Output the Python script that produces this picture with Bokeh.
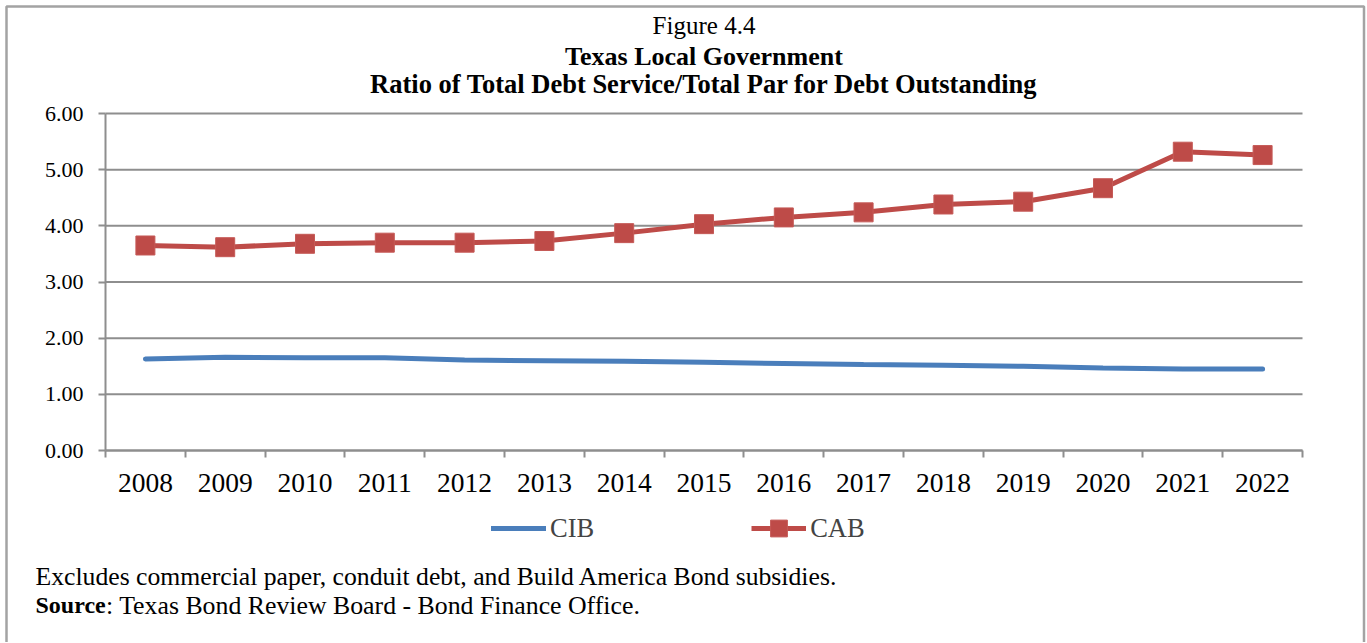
from bokeh.plotting import figure
from bokeh.models import (Range1d, FixedTicker, PrintfTickFormatter, Legend, LegendItem,
                          ColumnDataSource, LinearAxis)
from bokeh.core.properties import value
from bokeh.embed import file_html
from bokeh.resources import INLINE

# ---- data ----
years = [2008, 2009, 2010, 2011, 2012, 2013, 2014, 2015, 2016, 2017, 2018, 2019, 2020, 2021, 2022]
cib = [1.63, 1.66, 1.65, 1.65, 1.61, 1.60, 1.59, 1.57, 1.55, 1.53, 1.52, 1.50, 1.47, 1.45, 1.45]
cab = [3.65, 3.62, 3.68, 3.70, 3.70, 3.73, 3.87, 4.03, 4.15, 4.24, 4.38, 4.43, 4.67, 5.32, 5.26]
y_ticks = [0, 1, 2, 3, 4, 5, 6]
series_names = ["CIB", "CAB"]
title_lines = ["Figure 4.4", "Texas Local Government",
               "Ratio of Total Debt Service/Total Par for Debt Outstanding"]
note_line = "Excludes commercial paper, conduit debt, and Build America Bond subsidies."
source_bold = "Source"
source_rest = ": Texas Bond Review Board - Bond Finance Office."

# ---- layout / style ----
FONT = "Liberation Serif"
GRID = "#8e8e8e"
BORDER = "#a3a3a3"
BLUE = "#4A7EBB"
RED = "#BE4B48"

W, H = 1366, 642
PL, PR, PT, PB = 105, 1302, 113, 450   # plot area in canvas pixels
DY = -8.5                               # text baseline correction

x0, x1 = years[0] - 0.5, years[-1] + 0.5
ymax = y_ticks[-1]
sx = (PR - PL) / (x1 - x0)
sy = (PB - PT) / ymax

p = figure(width=W, height=H, output_backend="svg", toolbar_location=None,
           x_range=Range1d(x0 - PL / sx, x1 + (W - PR) / sx),
           y_range=Range1d(-(H - PB) / sy, ymax + PT / sy),
           x_axis_type=None, y_axis_type=None,
           min_border_left=0, min_border_right=0, min_border_top=0, min_border_bottom=0)
p.title = None
p.outline_line_color = None
p.background_fill_color = "white"
p.border_fill_color = "white"
p.extra_x_ranges = {"px": Range1d(0, W)}
p.extra_y_ranges = {"px": Range1d(H, 0)}

# gridlines (one per y tick, across the plot area)
grid_src = ColumnDataSource(dict(y=y_ticks, xa=[x0] * len(y_ticks), xb=[x1] * len(y_ticks)))
p.segment(x0="xa", y0="y", x1="xb", y1="y", source=grid_src,
          line_color=GRID, line_width=2)

# axes at fixed locations
xaxis = LinearAxis(fixed_location=0, bounds=(x0, x1),
                   ticker=FixedTicker(ticks=years,
                                      minor_ticks=[y - 0.5 for y in years] + [x1]))
xaxis.major_tick_line_color = None
xaxis.major_tick_out = 0
xaxis.major_tick_in = 0
xaxis.minor_tick_out = 7
xaxis.minor_tick_in = 0
xaxis.minor_tick_line_color = GRID
xaxis.minor_tick_line_width = 2
xaxis.major_label_standoff = 16
xaxis.major_label_text_font = FONT
xaxis.major_label_text_font_size = "27.5px"
xaxis.major_label_text_color = "black"
xaxis.axis_line_color = GRID
xaxis.axis_line_width = 2
p.add_layout(xaxis, "below")

yaxis = LinearAxis(fixed_location=x0, bounds=(0, ymax),
                   ticker=FixedTicker(ticks=y_ticks, minor_ticks=[]),
                   formatter=PrintfTickFormatter(format="%.2f"))
yaxis.major_tick_out = 7
yaxis.major_tick_in = 0
yaxis.major_tick_line_color = GRID
yaxis.major_tick_line_width = 2
yaxis.major_label_standoff = 15
yaxis.major_label_text_font = FONT
yaxis.major_label_text_font_size = "22px"
yaxis.major_label_text_color = "black"
yaxis.axis_line_color = GRID
yaxis.axis_line_width = 2
p.add_layout(yaxis, "left")

# series
src = ColumnDataSource(dict(year=years, cib=cib, cab=cab))
r_cib = p.line("year", "cib", source=src, line_color=BLUE, line_width=5, line_cap="round")
r_cab = p.line("year", "cab", source=src, line_color=RED, line_width=5)
r_cabm = p.scatter("year", "cab", source=src, marker="square", size=19,
                   fill_color=RED, line_color="#C55A57", line_width=1)

legend = Legend(items=[LegendItem(label=series_names[0], renderers=[r_cib]),
                       LegendItem(label=series_names[1], renderers=[r_cab, r_cabm])],
                location=(491, H - 549), orientation="horizontal",
                glyph_width=55, glyph_height=42, label_standoff=4, spacing=157,
                padding=0, margin=0, border_line_color=None, background_fill_alpha=0,
                label_text_font=FONT, label_text_font_size="26.5px",
                label_text_baseline="middle")
p.add_layout(legend, "center")

# titles
cx = (PL + PR) / 2
p.text(x=[cx], y=[33.3 + DY], text=[title_lines[0]], x_range_name="px", y_range_name="px",
       text_align="center", text_baseline="alphabetic", text_font=value(FONT),
       text_font_size=value("25px"), text_color="black")
p.text(x=[cx], y=[64.3 + DY], text=[title_lines[1]], x_range_name="px", y_range_name="px",
       text_align="center", text_baseline="alphabetic", text_font=value(FONT),
       text_font_size=value("26px"), text_font_style=value("bold"), text_color="black")
p.text(x=[cx], y=[92.3 + DY], text=[title_lines[2]], x_range_name="px", y_range_name="px",
       text_align="center", text_baseline="alphabetic", text_font=value(FONT),
       text_font_size=value("26.5px"), text_font_style=value("bold"), text_color="black")

# footnotes
p.text(x=[35], y=[584 + DY], text=[note_line], x_range_name="px", y_range_name="px",
       text_align="left", text_baseline="alphabetic", text_font=value(FONT),
       text_font_size=value("25.7px"), text_color="black")
p.text(x=[35], y=[613.3 + DY], text=[source_bold], x_range_name="px", y_range_name="px",
       text_align="left", text_baseline="alphabetic", text_font=value(FONT),
       text_font_size=value("24px"), text_font_style=value("bold"), text_color="black")
p.text(x=[105.5], y=[613.3 + DY], text=[source_rest], x_range_name="px", y_range_name="px",
       text_align="left", text_baseline="alphabetic", text_font=value(FONT),
       text_font_size=value("25.8px"), text_color="black")

# outer frame of the figure box
p.line(x=[6, 6, 1363.5, 1363.5], y=[H + 5, 6, 6, H + 5], x_range_name="px", y_range_name="px",
       line_color=BORDER, line_width=2.5)

open("out.html", "w").write(file_html(p, INLINE))
